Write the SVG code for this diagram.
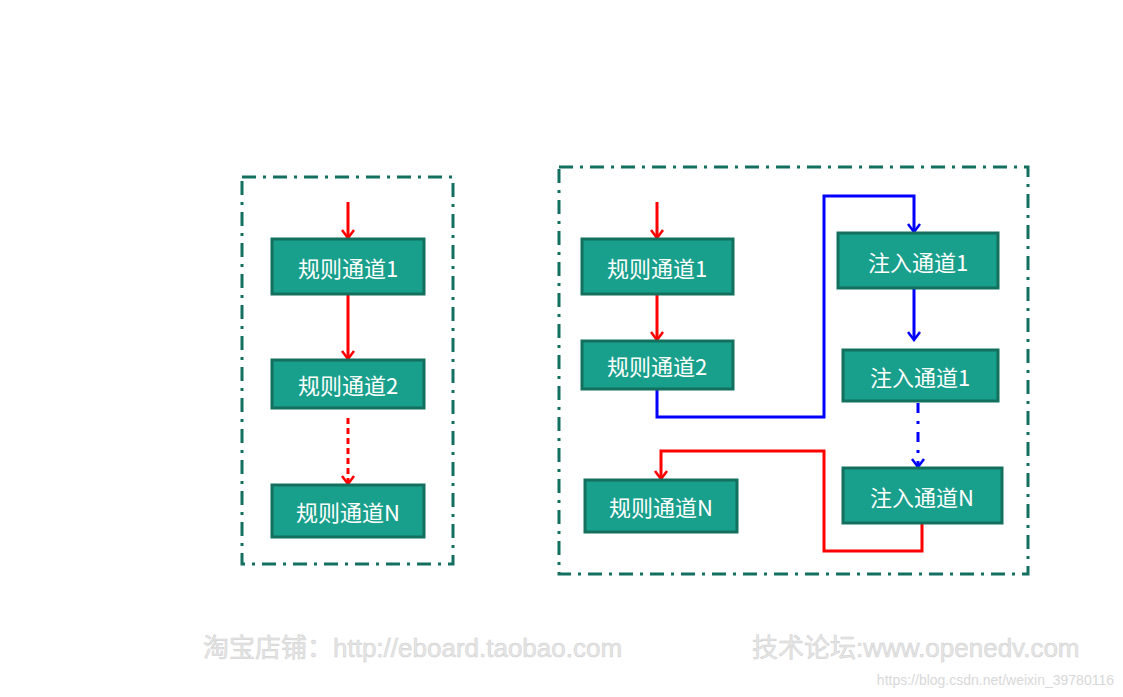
<svg xmlns="http://www.w3.org/2000/svg" width="1123" height="697" viewBox="0 0 1123 697">
<style>
.frame{fill:none;stroke:#137060;stroke-width:3;stroke-dasharray:14 7 3 7}
.box rect{fill:#19a08c;stroke:#13705f;stroke-width:3}
.box text{fill:#fff;font-family:"Noto Sans CJK SC","Liberation Sans",sans-serif;font-size:22px;text-anchor:middle;dominant-baseline:central}
.r{stroke:#f00;stroke-width:3;fill:none}
.b{stroke:#00f;stroke-width:3;fill:none}
.wm{fill:#e6e6e6;stroke:#cfcfcf;stroke-width:0.5;font-family:"Liberation Sans","Noto Sans CJK SC",sans-serif;font-size:26px}
</style>
<defs>
<marker id="ar" viewBox="0 0 14 14" refX="12" refY="7" markerWidth="14" markerHeight="14" markerUnits="userSpaceOnUse" orient="auto"><path d="M4,1 L12,7 L4,13" fill="none" stroke="#f00" stroke-width="2.5"/></marker>
<marker id="ab" viewBox="0 0 14 14" refX="12" refY="7" markerWidth="14" markerHeight="14" markerUnits="userSpaceOnUse" orient="auto"><path d="M4,1 L12,7 L4,13" fill="none" stroke="#00f" stroke-width="2.5"/></marker>
</defs>
<rect class="frame" x="242" y="177" width="211" height="387"/>
<rect class="frame" x="559" y="167" width="469" height="407"/>
<g id="connectors">
<line class="r" x1="348" y1="202" x2="348" y2="238" marker-end="url(#ar)"/>
<line class="r" x1="348" y1="295" x2="348" y2="359" marker-end="url(#ar)"/>
<line class="r" x1="348" y1="418" x2="348" y2="484" stroke-dasharray="6 4" marker-end="url(#ar)"/>
<line class="r" x1="657" y1="202" x2="657" y2="238" marker-end="url(#ar)"/>
<line class="r" x1="657" y1="295" x2="657" y2="340" marker-end="url(#ar)"/>
<polyline class="b" points="657,390 657,417 824,417 824,196 914,196 914,232" marker-end="url(#ab)"/>
<line class="b" x1="914" y1="289" x2="914" y2="340" marker-end="url(#ab)"/>
<line class="b" x1="918" y1="403" x2="918" y2="467" stroke-dasharray="10 8 3 8" marker-end="url(#ab)"/>
<polyline class="r" points="922,524 922,551 824,551 824,451 661,451 661,479" marker-end="url(#ar)"/>
</g>
<g id="n1" class="box"><rect x="272" y="239" width="152" height="55"/><text x="348" y="267">规则通道1</text></g>
<g id="n2" class="box"><rect x="272" y="360" width="152" height="48"/><text x="348" y="384">规则通道2</text></g>
<g id="n3" class="box"><rect x="272" y="485" width="152" height="52"/><text x="348" y="511">规则通道N</text></g>
<g id="n4" class="box"><rect x="582" y="239" width="151" height="55"/><text x="657" y="267">规则通道1</text></g>
<g id="n5" class="box"><rect x="582" y="341" width="151" height="48"/><text x="657" y="365">规则通道2</text></g>
<g id="n6" class="box"><rect x="585" y="480" width="152" height="52"/><text x="661" y="506">规则通道N</text></g>
<g id="n7" class="box"><rect x="838" y="233" width="160" height="55"/><text x="918" y="261">注入通道1</text></g>
<g id="n8" class="box"><rect x="843" y="350" width="155" height="51"/><text x="920" y="376">注入通道1</text></g>
<g id="n9" class="box"><rect x="843" y="468" width="159" height="55"/><text x="922" y="496">注入通道N</text></g>
<text class="wm" x="203" y="657">淘宝店铺：http://eboard.taobao.com</text>
<text class="wm" x="752" y="657">技术论坛:www.openedv.com</text>
<text x="1114" y="685" text-anchor="end" fill="#d8d8d8" font-family="Liberation Sans,sans-serif" font-size="14">https://blog.csdn.net/weixin_39780116</text>
</svg>
